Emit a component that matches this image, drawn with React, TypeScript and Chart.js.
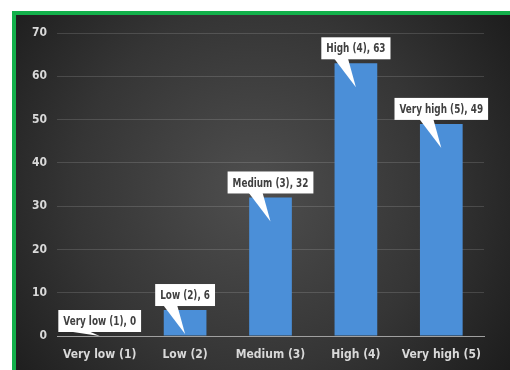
import React, { useEffect, useRef } from "react";
import { Chart, registerables } from "chart.js";

Chart.register(...registerables);

const categories = ["Very low (1)", "Low (2)", "Medium (3)", "High (4)", "Very high (5)"];
const values = [0, 6, 32, 63, 49];
const yTicks = [0, 10, 20, 30, 40, 50, 60, 70];

const FONT_FAMILY = "'DejaVu Sans Condensed', 'Liberation Sans Narrow', sans-serif";
const LABEL_FONT = "bold 12px " + FONT_FAMILY;
const SQUEEZE = 0.82;

const backgroundPlugin = {
  id: "bgPanel",
  beforeDraw(chart: any) {
    const ctx = chart.ctx;
    const w = chart.width;
    const h = chart.height;
    ctx.save();
    ctx.fillStyle = "#ffffff";
    ctx.fillRect(0, 0, w, h);
    ctx.fillStyle = "#13b04b";
    ctx.fillRect(12, 11, w - 12, h - 11);
    const g = ctx.createRadialGradient(255, 190, 10, 255, 190, 320);
    g.addColorStop(0, "#4d4d4d");
    g.addColorStop(0.55, "#353535");
    g.addColorStop(1, "#1b1b1b");
    ctx.fillStyle = g;
    ctx.fillRect(16, 15, w - 16, h - 15);
    ctx.restore();
  },
};

const calloutPlugin = {
  id: "callouts",
  afterDatasetsDraw(chart: any) {
    const ctx = chart.ctx;
    const meta = chart.getDatasetMeta(0);
    const base = chart.scales.y.getPixelForValue(0);
    ctx.save();
    ctx.font = LABEL_FONT;
    meta.data.forEach((bar: any, i: number) => {
      const text = `${categories[i]}, ${values[i]}`;
      const tw = ctx.measureText(text).width * SQUEEZE;
      const bw = tw + 10;
      const bh = 22;
      const cx = bar.x;
      const bottom = bar.y - 4;
      const left = cx - bw / 2;
      const top = bottom - bh;
      const tipX = cx;
      const tipY = Math.min(bar.y + 24, base);
      ctx.fillStyle = "#ffffff";
      ctx.fillRect(left, top, bw, bh);
      ctx.beginPath();
      if (i === 0) {
        ctx.moveTo(left + 8, bottom - 1);
        ctx.lineTo(left + 30, bottom - 1);
        ctx.lineTo(tipX, tipY);
      } else {
        ctx.moveTo(cx - 22, bottom - 1);
        ctx.lineTo(cx - 8, bottom - 1);
        ctx.lineTo(tipX, tipY);
      }
      ctx.closePath();
      ctx.fill();
      ctx.save();
      ctx.fillStyle = "#404040";
      ctx.textAlign = "center";
      ctx.textBaseline = "middle";
      ctx.translate(cx, top + bh / 2 + 1);
      ctx.scale(SQUEEZE, 1);
      ctx.fillText(text, 0, 0);
      ctx.restore();
    });
    ctx.restore();
  },
};

export default function App() {
  const canvasRef = useRef<HTMLCanvasElement | null>(null);

  useEffect(() => {
    if (!canvasRef.current) return;
    const chart = new Chart(canvasRef.current, {
      type: "bar",
      data: {
        labels: categories,
        datasets: [
          {
            data: values,
            backgroundColor: "#4b8fd8",
            borderWidth: 0,
            barPercentage: 0.5,
            categoryPercentage: 1,
          },
        ],
      },
      options: {
        animation: false,
        responsive: false,
        maintainAspectRatio: false,
        layout: { padding: { left: 16, right: 26, top: 33, bottom: 4 } },
        plugins: {
          legend: { display: false },
          tooltip: { enabled: false },
        },
        scales: {
          x: {
            grid: { display: false, drawTicks: false },
            border: { display: true, color: "#a0a0a0", width: 1 },
            ticks: {
              color: "#d9d9d9",
              font: { family: FONT_FAMILY, size: 12, weight: "bold" },
              padding: 12,
              maxRotation: 0,
              autoSkip: false,
            },
            afterFit(scale: any) {
              scale.height = 30;
            },
          },
          y: {
            min: 0,
            max: 70,
            afterBuildTicks(scale: any) {
              scale.ticks = yTicks.map((v) => ({ value: v }));
            },
            grid: { color: "rgba(255,255,255,0.14)", drawTicks: false, lineWidth: 1 },
            border: { display: false },
            ticks: {
              color: "#d9d9d9",
              font: { family: FONT_FAMILY, size: 12, weight: "bold" },
              padding: 10,
            },
            afterFit(scale: any) {
              scale.width = 41;
            },
          },
        },
      },
      plugins: [backgroundPlugin, calloutPlugin],
    });
    return () => chart.destroy();
  }, []);

  return (
    <div style={{ position: "absolute", left: 0, top: 0, width: 510, height: 370 }}>
      <canvas ref={canvasRef} width={510} height={370} style={{ display: "block" }} />
    </div>
  );
}
